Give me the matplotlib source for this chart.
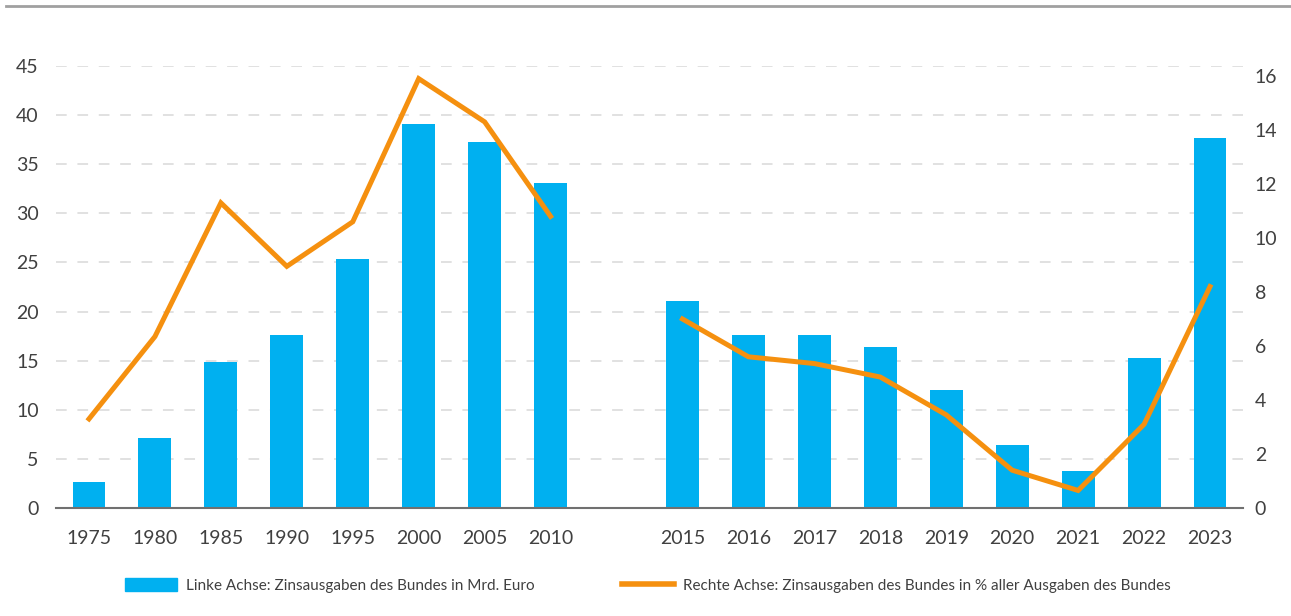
import numpy as np
import matplotlib.pyplot as plt
from matplotlib.lines import Line2D

plt.rcParams['font.family'] = ['Lato', 'DejaVu Sans']

# data
years = ['1975', '1980', '1985', '1990', '1995', '2000', '2005', '2010',
         '2015', '2016', '2017', '2018', '2019', '2020', '2021', '2022', '2023']
zins_mrd = [2.6, 7.1, 14.9, 17.6, 25.4, 39.1, 37.3, 33.1,
            21.1, 17.6, 17.6, 16.4, 12.0, 6.4, 3.8, 15.3, 37.7]
zins_pct = [3.3, 6.35, 11.3, 8.95, 10.6, 15.9, 14.3, 10.8,
            7.0, 5.6, 5.35, 4.85, 3.45, 1.4, 0.65, 3.1, 8.2]
left_ticks = [0, 5, 10, 15, 20, 25, 30, 35, 40, 45]
right_ticks = [0, 2, 4, 6, 8, 10, 12, 14, 16]

# positions: one empty slot between 2010 and 2015
x = np.array(list(range(8)) + list(range(9, 18)))

blue = '#00b0f0'
orange = '#f5900f'
txt = '#404040'

fig = plt.figure(figsize=(12.91, 6.16), dpi=100)
ax = fig.add_axes([0.0434, 0.1753, 0.9194, 0.7176])
ax2 = ax.twinx()

ax.bar(x, zins_mrd, width=0.5, color=blue, zorder=2)

# line is broken between 2010 and 2015
xl = np.concatenate([x[:8], [8], x[8:]])
yl = np.concatenate([zins_pct[:8], [np.nan], zins_pct[8:]])
ax2.plot(xl, yl, color=orange, lw=3.6, solid_joinstyle='miter', zorder=3)

ax.set_xlim(-0.5, 17.5)
ax.set_ylim(0, 45)
ax2.set_ylim(0, 16.37)

ax.set_xticks(x)
ax.set_xticklabels(years)
ax.set_yticks(left_ticks)
ax2.set_yticks(right_ticks)

ax.yaxis.grid(True, color='#d9d9d9', linestyle=(0, (7, 7)), lw=1.1, zorder=0)
ax.set_axisbelow(True)

for a in (ax, ax2):
    for s in ['top', 'left', 'right', 'bottom']:
        a.spines[s].set_visible(False)
ax.spines['bottom'].set_visible(True)
ax.spines['bottom'].set_color('#707070')
ax.spines['bottom'].set_linewidth(1.5)

ax.tick_params(axis='x', length=0, pad=16, labelsize=14, labelcolor=txt)
ax.tick_params(axis='y', length=0, pad=12.5, labelsize=14, labelcolor=txt)
ax2.tick_params(axis='y', length=0, pad=8.5, labelsize=14, labelcolor=txt)

# thin gray rule at the top
fig.add_artist(Line2D([0.005, 1.0], [0.990, 0.990], color='#a0a0a0', lw=2,
                      transform=fig.transFigure))

handles = [plt.Rectangle((0, 0), 1, 1, color=blue),
           Line2D([0], [0], color=orange, lw=4)]
labels = ['Linke Achse: Zinsausgaben des Bundes in Mrd. Euro',
          'Rechte Achse: Zinsausgaben des Bundes in % aller Ausgaben des Bundes']
fig.legend(handles, labels, loc='center', bbox_to_anchor=(0.502, 0.05), ncol=2,
           frameon=False, fontsize=11, handlelength=3.4, handleheight=0.9,
           handletextpad=0.6, columnspacing=5.7, labelcolor=txt)

fig.savefig('out.png', dpi=100)
